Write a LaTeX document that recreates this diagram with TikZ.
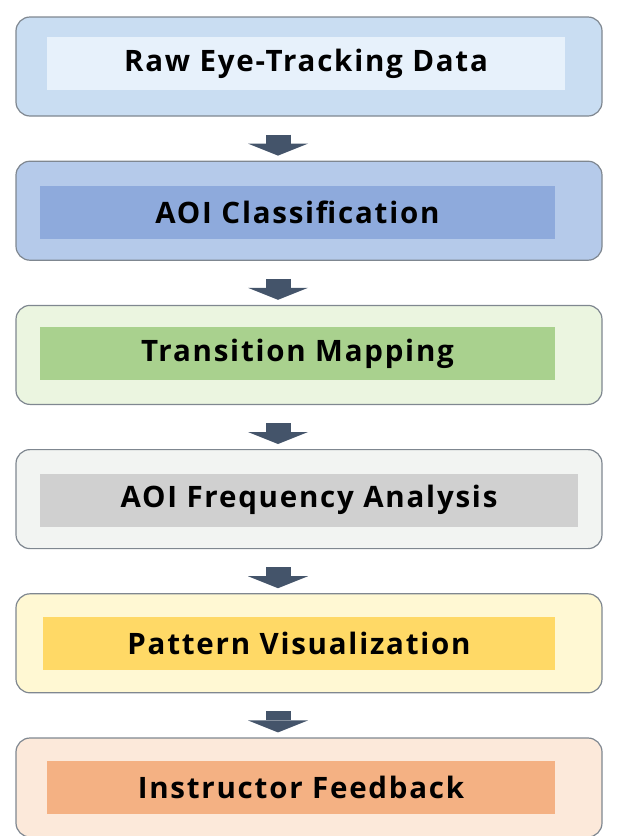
\documentclass[tikz,border=0pt]{standalone}
\usepackage{fontspec}
\setmainfont{Open Sans}
\newfontfamily\stagefont[LetterSpace=6]{Open Sans}
\usetikzlibrary{positioning, arrows.meta}
\definecolor{rawout}{HTML}{C9DDF2}
\definecolor{rawin}{HTML}{E7F1FB}
\definecolor{aoiout}{HTML}{B5CAEA}
\definecolor{aoiin}{HTML}{8EAADC}
\definecolor{transout}{HTML}{EBF5E0}
\definecolor{transin}{HTML}{A9D18E}
\definecolor{freqout}{HTML}{F2F4F2}
\definecolor{freqin}{HTML}{D0D0D0}
\definecolor{pattout}{HTML}{FFF8D3}
\definecolor{pattin}{HTML}{FFD966}
\definecolor{feedout}{HTML}{FCE9DA}
\definecolor{feedin}{HTML}{F4B183}
\definecolor{edgegray}{HTML}{7F8790}
\definecolor{arrslate}{HTML}{44546A}

\begin{document}
\begin{tikzpicture}[x=1pt, y=1pt, node distance=44pt]
  \tikzset{
    stage/.style={rectangle, rounded corners=14pt, draw=edgegray, line width=1.2pt,
      fill=#1, minimum width=586pt, minimum height=99pt, inner sep=0pt},
    tagbox/.style={rectangle, fill=#1, minimum height=53pt, inner sep=0pt,
      font=\stagefont\bfseries\fontsize{29.5}{34}\selectfont, text=black},
    flowarr/.style={draw=arrslate, line width=25pt,
      -{Triangle[width=60pt, length=12pt, line width=0pt]},
      shorten <=18pt, shorten >=5pt},
  }
  \useasboundingbox (0,0) rectangle (618,-836);

  % outer stages
  \node[stage=rawout] (s1) at (309,-66.5) {};
  \node[stage=aoiout, below=of s1] (s2) {};
  \node[stage=transout, below=of s2] (s3) {};
  \node[stage=freqout, below=of s3] (s4) {};
  \node[stage=pattout, below=of s4] (s5) {};
  \node[stage=feedout, below=of s5] (s6) {};

  % inner labels
  \node[tagbox=rawin, minimum width=518pt] (t1) at ([xshift=-3pt, yshift=3pt]s1.center) {Raw Eye-Tracking Data};
  \node[tagbox=aoiin, minimum width=515pt] (t2) at ([xshift=-11.5pt, yshift=-2pt]s2.center) {AOI Classification};
  \node[tagbox=transin, minimum width=515pt] (t3) at ([xshift=-11.5pt, yshift=1pt]s3.center) {Transition Mapping};
  \node[tagbox=freqin, minimum width=538pt] (t4) at ([yshift=-1pt]s4.center) {AOI Frequency Analysis};
  \node[tagbox=pattin, minimum width=512pt] (t5) at ([xshift=-10pt]s5.center) {Pattern Visualization};
  \node[tagbox=feedin, minimum width=508pt] (t6) at ([xshift=-8pt]s6.center) {Instructor Feedback};

  % block arrows
  \foreach \a/\b in {s1/s2, s2/s3, s3/s4, s4/s5, s5/s6}
    \draw[flowarr] ([xshift=-31pt]\a.south) -- ([xshift=-31pt]\b.north);
\end{tikzpicture}
\end{document}
